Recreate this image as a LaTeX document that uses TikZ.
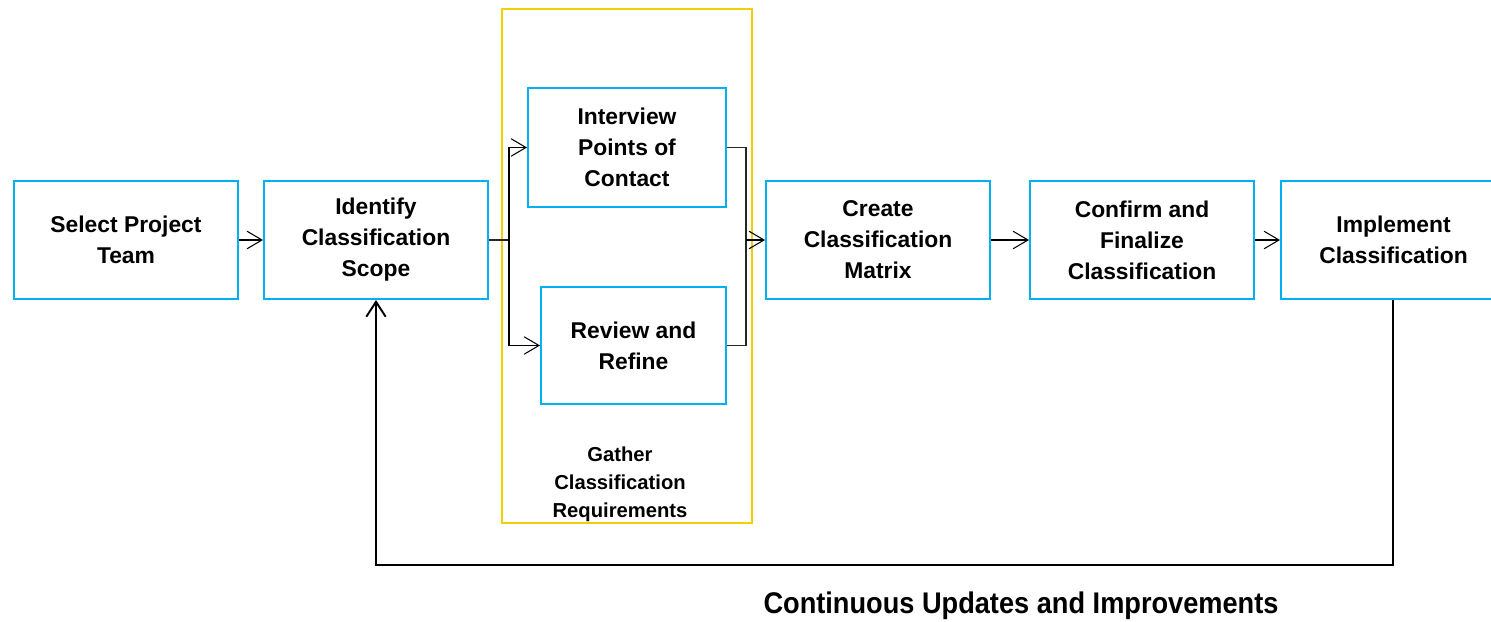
\documentclass[tikz,border=0pt]{standalone}
\usepackage{fontspec}
\setmainfont{Liberation Sans}
\newfontfamily\condfont[FakeStretch=0.91]{Liberation Sans}
\usetikzlibrary{arrows.meta}
\definecolor{boxblue}{RGB}{0,176,240}
\definecolor{groupyellow}{RGB}{240,208,0}
\tikzset{
  stepbox/.style={draw=boxblue, line width=1.15pt, fill=white, align=center,
    minimum width=4.48cm, minimum height=2.36cm, inner sep=2pt,
    font=\fontsize{13}{17.6}\selectfont\bfseries},
  arr/.style={draw=black, line width=0.6pt, -{Straight Barb[length=8.5pt,width=10pt,line width=0.6pt]}},
  link/.style={draw=black!85, line width=0.6pt},
  fbline/.style={draw=black, line width=1.1pt, -{Straight Barb[length=8.5pt,width=11pt,line width=1.1pt]}},
}
\begin{document}
\begin{tikzpicture}[x=0.02cm, y=-0.02cm]
  \useasboundingbox (0,0) rectangle (1491,622);
  \clip (0,0) rectangle (1491,622);
  \fill[white] (0,0) rectangle (1491,622);

  % group frame for the gathering stage
  \node[draw=groupyellow, line width=1.15pt, minimum width=5.0cm, minimum height=10.28cm,
        inner sep=0pt] (grp) at (627,266) {};
  \node[align=center, font=\fontsize{11.5}{15.9}\selectfont\bfseries] (gl) at (620,484)
    {Gather\\Classification\\Requirements};

  % process steps
  \node[stepbox] (sel) at (126,240) {Select Project\\Team};
  \node[stepbox] (scope) at (376,240) {Identify\\Classification\\Scope};
  \node[stepbox, minimum width=3.96cm, minimum height=2.38cm] (iv) at (627,147.5) {Interview\\Points of\\Contact};
  \node[stepbox, minimum width=3.7cm, minimum height=2.34cm] (rv) at (633.5,345.5) {Review and\\Refine};
  \node[stepbox] (cm) at (878,240) {Create\\Classification\\Matrix};
  \node[stepbox] (cf) at (1142,240) {Confirm and\\Finalize\\Classification};
  \node[stepbox, minimum width=4.5cm] (im) at (1393.5,240) {Implement\\Classification};

  % forward flow
  \draw[arr] (sel.east) -- (scope.west);
  \coordinate (split) at (509,240);
  \coordinate (merge) at (746,240);
  \draw[link] (scope.east) -- (split);
  \draw[arr] (split) |- (iv.west);
  \draw[arr] (split) |- (rv.west);
  \draw[link] (iv.east) -| (merge);
  \draw[link] (rv.east) -| (merge);
  \draw[arr] (merge) -- (cm.west);
  \draw[arr] (cm.east) -- (cf.west);
  \draw[arr] (cf.east) -- (im.west);

  % feedback loop
  \coordinate (loopR) at (1393,565);
  \coordinate (loopL) at (376,565);
  \draw[fbline] (im.south -| loopR) -- (loopR) -- (loopL) -- (scope.south);

  \node[font=\condfont\fontsize{17}{20}\selectfont\bfseries] (fbl) at (1021,606)
    {Continuous Updates and Improvements};
\end{tikzpicture}
\end{document}
